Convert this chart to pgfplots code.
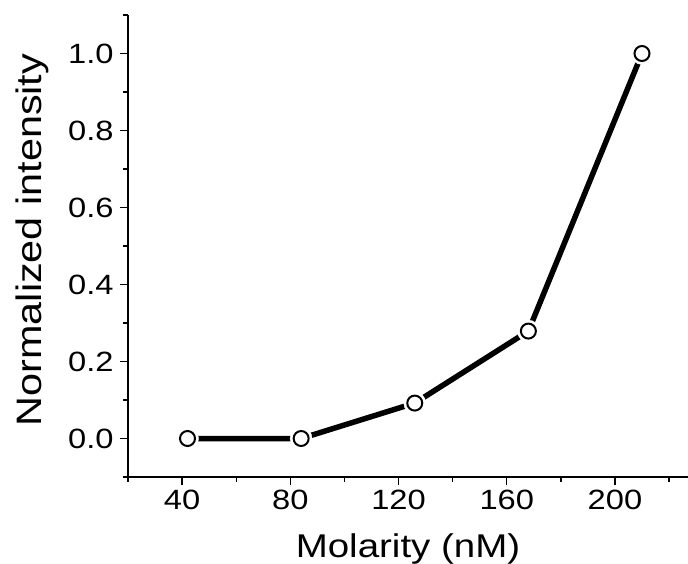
\documentclass[border=0pt]{standalone}
\usepackage{pgfplots}
\pgfplotsset{compat=1.18}
\usepackage{fontspec}
\setmainfont[FakeStretch=1.17]{Liberation Sans}
\begin{document}
\begin{tikzpicture}
\begin{axis}[
  at={(0,0)}, anchor=south west,
  scale only axis,
  width=560bp, height=462bp,
  xmin=20, xmax=227, ymin=-0.1, ymax=1.1,
  axis x line*=bottom, axis y line*=left,
  axis line style={line width=1.4bp, -},
  xtick={40,80,120,160,200},
  xticklabels={40,80,120,160,200},
  minor xtick={20,60,100,140,180,220},
  ytick={0,0.2,0.4,0.6,0.8,1.0},
  yticklabels={0.0,0.2,0.4,0.6,0.8,1.0},
  minor ytick={-0.1,0.1,0.3,0.5,0.7,0.9,1.1},
  tick align=outside,
  major tick length=8bp, minor tick length=5bp,
  tick style={line width=1.4bp, black},
  ticklabel style={font=\fontsize{28}{32}\selectfont},
  xticklabel style={yshift=-2bp},
  yticklabel style={xshift=-3bp},
  xlabel={Molarity (nM)}, ylabel={Normalized intensity},
  xlabel style={font=\fontsize{33}{38}\selectfont, at={(axis description cs:0.5,-0.1732)}, anchor=base},
  ylabel style={font=\fontsize{35.5}{40}\selectfont, at={(axis description cs:-0.1536,0.513)}, anchor=base, rotate=0},
  clip=false,
]
\addplot[black, line width=5.5bp] coordinates {(42,0) (84,0) (126,0.092) (168,0.279) (210,1.0)};
\addplot[only marks, mark=*, mark size=11bp, white, mark options={fill=white, draw=white}] coordinates {(42,0) (84,0) (126,0.092) (168,0.279) (210,1.0)};
\addplot[only marks, mark=*, mark size=7.5bp, mark options={fill=white, draw=black, line width=2bp}] coordinates {(42,0) (84,0) (126,0.092) (168,0.279) (210,1.0)};
\end{axis}
\pgfresetboundingbox
\useasboundingbox (-128bp,-87bp) rectangle (560bp,477bp);
\end{tikzpicture}
\end{document}
